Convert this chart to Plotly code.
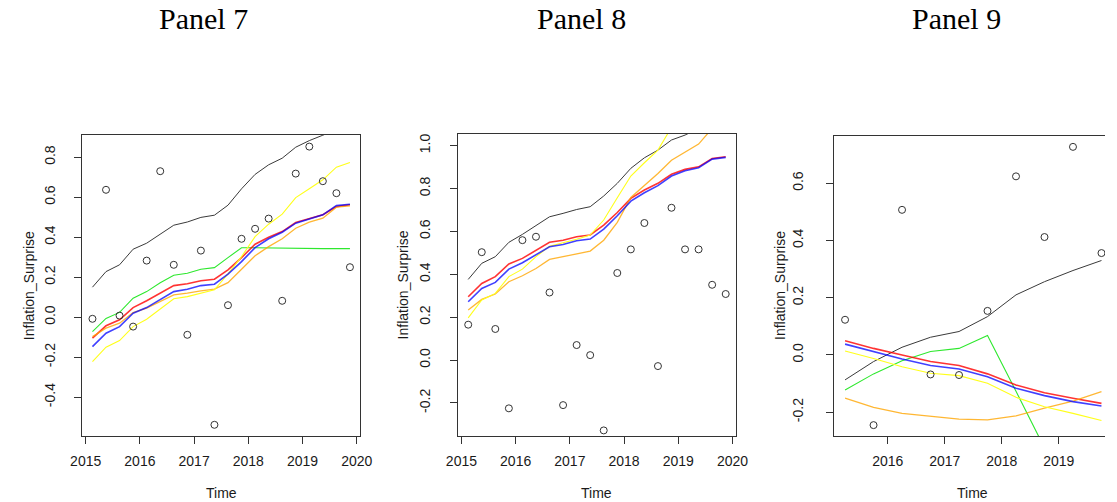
import plotly.graph_objects as go

W, H = 1117, 502

# ---------------- data ----------------
# Panel 7 / Panel 8: quarterly observations
time_q = [2015.125, 2015.375, 2015.625, 2015.875, 2016.125, 2016.375, 2016.625,
          2016.875, 2017.125, 2017.375, 2017.625, 2017.875, 2018.125, 2018.375,
          2018.625, 2018.875, 2019.125, 2019.375, 2019.625, 2019.875]

p7_actual = [-0.008, 0.637, 0.008, -0.047, 0.283, 0.730, 0.262, -0.088, 0.333, -0.538,
             0.060, 0.392, 0.442, 0.493, 0.082, 0.718, 0.853, 0.680, 0.620, 0.250]
p7_black = [0.150, 0.228, 0.262, 0.340, 0.370, 0.413, 0.460, 0.476, 0.499, 0.510,
            0.560, 0.642, 0.714, 0.762, 0.795, 0.850, 0.883, 0.910, 0.940, 0.965]
p7_green = [-0.072, -0.006, 0.024, 0.095, 0.128, 0.172, 0.210, 0.220, 0.240, 0.248,
            0.298, 0.347, 0.347, 0.346, 0.343, 0.343, 0.343, 0.343, 0.343, 0.343]
p7_red = [-0.105, -0.043, -0.013, 0.048, 0.082, 0.120, 0.158, 0.167, 0.182, 0.190,
          0.237, 0.298, 0.365, 0.400, 0.428, 0.473, 0.493, 0.512, 0.553, 0.562]
p7_blue = [-0.147, -0.080, -0.047, 0.020, 0.048, 0.090, 0.128, 0.140, 0.158, 0.165,
           0.215, 0.278, 0.348, 0.392, 0.425, 0.470, 0.492, 0.512, 0.558, 0.565]
p7_orange = [-0.097, -0.055, -0.030, 0.023, 0.045, 0.078, 0.112, 0.120, 0.132, 0.140,
             0.173, 0.240, 0.307, 0.353, 0.392, 0.445, 0.475, 0.495, 0.550, 0.557]
p7_yellow = [-0.222, -0.150, -0.117, -0.047, -0.010, 0.040, 0.092, 0.103, 0.120, 0.137,
             0.217, 0.303, 0.403, 0.465, 0.515, 0.598, 0.642, 0.687, 0.750, 0.773]

p8_actual = [0.165, 0.503, 0.145, -0.225, 0.559, 0.575, 0.315, -0.210, 0.070, 0.023,
             -0.328, 0.406, 0.516, 0.639, -0.028, 0.710, 0.516, 0.516, 0.351, 0.308]
p8_black = [0.376, 0.451, 0.482, 0.549, 0.586, 0.626, 0.668, 0.684, 0.702, 0.715,
            0.765, 0.824, 0.894, 0.943, 0.979, 1.026, 1.049, 1.080, 1.110, 1.130]
p8_red = [0.295, 0.357, 0.389, 0.448, 0.474, 0.513, 0.549, 0.559, 0.575, 0.583,
          0.629, 0.688, 0.754, 0.793, 0.824, 0.866, 0.889, 0.901, 0.940, 0.948]
p8_blue = [0.272, 0.334, 0.362, 0.424, 0.454, 0.493, 0.528, 0.539, 0.556, 0.564,
           0.611, 0.673, 0.741, 0.780, 0.813, 0.858, 0.883, 0.897, 0.937, 0.945]
p8_orange = [0.233, 0.283, 0.308, 0.365, 0.393, 0.427, 0.469, 0.482, 0.497, 0.508,
             0.559, 0.642, 0.758, 0.813, 0.870, 0.932, 0.968, 1.007, 1.080, 1.150]
p8_yellow = [0.197, 0.280, 0.311, 0.389, 0.424, 0.482, 0.531, 0.547, 0.563, 0.583,
             0.653, 0.757, 0.858, 0.920, 0.979, 1.085, 1.150, 1.220, 1.290, 1.350]

# Panel 9: half-yearly observations
time_h = [2015.25, 2015.75, 2016.25, 2016.75, 2017.25, 2017.75, 2018.25, 2018.75,
          2019.25, 2019.75]
p9_actual = [0.123, -0.245, 0.507, -0.068, -0.070, 0.154, 0.624, 0.412, 0.727, 0.356]
p9_black = [-0.087, -0.023, 0.027, 0.062, 0.082, 0.134, 0.210, 0.256, 0.295, 0.330]
p9_green = [-0.122, -0.066, -0.020, 0.012, 0.023, 0.068, -0.127, -0.320, -0.520, -0.720]
p9_red = [0.050, 0.023, 0.000, -0.023, -0.037, -0.066, -0.105, -0.132, -0.151, -0.169]
p9_blue = [0.038, 0.012, -0.014, -0.037, -0.049, -0.076, -0.116, -0.142, -0.163, -0.178]
p9_orange = [-0.151, -0.183, -0.204, -0.215, -0.224, -0.227, -0.213, -0.186, -0.161, -0.128]
p9_yellow = [0.014, -0.012, -0.041, -0.064, -0.072, -0.099, -0.148, -0.181, -0.204, -0.229]

# ---------------- styling ----------------
LINE_STYLE = {
    "black": dict(color="#3a3a3a", width=1.0),
    "green": dict(color="#2ee82e", width=1.1),
    "red": dict(color="rgba(255,0,0,0.8)", width=1.6),
    "orange": dict(color="rgba(255,165,0,0.8)", width=1.3),
    "yellow": dict(color="#ffff1a", width=1.1),
    "blue": dict(color="rgba(0,0,255,0.75)", width=1.6),
}

fig = go.Figure()


def add_panel(idx, t, actual, fits):
    xa = "x" if idx == 1 else f"x{idx}"
    ya = "y" if idx == 1 else f"y{idx}"
    for name, vals in fits:
        fig.add_trace(go.Scatter(x=t, y=vals, mode="lines", name=name,
                                 line=LINE_STYLE[name], xaxis=xa, yaxis=ya,
                                 showlegend=False, hoverinfo="skip"))
    fig.add_trace(go.Scatter(x=t, y=actual, mode="markers", name="Inflation_Surprise",
                             marker=dict(symbol="circle-open", size=7, color="#333333",
                                         line=dict(color="#333333", width=1)),
                             xaxis=xa, yaxis=ya, showlegend=False))


add_panel(1, time_q, p7_actual, [("black", p7_black), ("green", p7_green),
                                  ("red", p7_red), ("orange", p7_orange),
                                  ("yellow", p7_yellow), ("blue", p7_blue)])
add_panel(2, time_q, p8_actual, [("black", p8_black), ("red", p8_red),
                                  ("orange", p8_orange), ("yellow", p8_yellow),
                                  ("blue", p8_blue)])
add_panel(3, time_h, p9_actual, [("black", p9_black), ("green", p9_green),
                                  ("red", p9_red), ("orange", p9_orange),
                                  ("yellow", p9_yellow), ("blue", p9_blue)])


def dom_x(left, right):
    return [left / W, min(right / W, 1.0)]


def dom_y(top, bottom):
    return [(H - bottom) / H, (H - top) / H]


TICK_FONT = dict(family="Liberation Sans, Arial, sans-serif", size=14, color="#1a1a1a")
AX_COMMON = dict(showgrid=False, zeroline=False, showline=True, linecolor="#333333",
                 linewidth=1, ticks="outside", ticklen=7, tickwidth=1,
                 tickcolor="#333333", tickfont=TICK_FONT)

# pixel boxes of the three plot regions: (left, right, top, bottom)
boxes = [(71.7, 355.9, 135.0, 436.0),
         (455.7, 739.9, 134.0, 436.0),
         (840.0, 1117.0, 135.7, 436.0)]
x_ranges = [[2014.935, 2020.065], [2014.935, 2020.065], [2015.055, 2019.812]]
y_ranges = [[-0.594, 0.911], [-0.354, 1.054], [-0.283, 0.766]]
x_ticks = [[2015, 2016, 2017, 2018, 2019, 2020]] * 2 + [[2016, 2017, 2018, 2019]]
y_ticks = [[-0.4, -0.2, 0.0, 0.2, 0.4, 0.6, 0.8],
           [-0.2, 0.0, 0.2, 0.4, 0.6, 0.8, 1.0],
           [-0.2, 0.0, 0.2, 0.4, 0.6]]
y_standoff = [14, 14, 17]

layout = {}
for i, (l, r, tp, bt) in enumerate(boxes):
    sfx = "" if i == 0 else str(i + 1)
    layout[f"xaxis{sfx}"] = dict(AX_COMMON, domain=dom_x(l, r), range=x_ranges[i],
                                 tickvals=x_ticks[i], ticktext=[str(v) for v in x_ticks[i]],
                                 mirror=True, anchor=f"y{sfx}", ticklabelstandoff=5)
    layout[f"yaxis{sfx}"] = dict(AX_COMMON, domain=dom_y(tp, bt), range=y_ranges[i],
                                 tickvals=y_ticks[i],
                                 ticktext=[f"{v:.1f}" for v in y_ticks[i]],
                                 tickangle=-90, mirror=(i < 2), anchor=f"x{sfx}",
                                 ticklabelstandoff=y_standoff[i])

fig.update_layout(**layout)

annotations = []
title_x = [195.5, 582.0, 965.5]
for i, name in enumerate(["Panel 7", "Panel 8", "Panel 9"]):
    annotations.append(dict(text=name, x=title_x[i] / W, y=1 - 19 / H, xref="paper",
                            yref="paper", showarrow=False, xanchor="center",
                            yanchor="middle",
                            font=dict(family="Liberation Serif, Times New Roman, serif",
                                      size=30, color="#000000")))
ylab_x = [17.0, 400.0, 785.0]
time_x = [213.8, 597.8, 981.9]
for i, (l, r, tp, bt) in enumerate(boxes):
    annotations.append(dict(text="Time", x=time_x[i] / W, y=1 - 493 / H, xref="paper",
                            yref="paper", showarrow=False, xanchor="center",
                            yanchor="middle", font=TICK_FONT))
    annotations.append(dict(text="Inflation_Surprise", x=ylab_x[i] / W,
                            y=1 - ((tp + bt) / 2) / H, xref="paper", yref="paper",
                            showarrow=False, xanchor="center", yanchor="middle",
                            textangle=-90, font=TICK_FONT))

fig.update_layout(width=W, height=H, margin=dict(l=0, r=0, t=0, b=0),
                  paper_bgcolor="white", plot_bgcolor="white", showlegend=False,
                  annotations=annotations)

fig.write_html("out.html")
